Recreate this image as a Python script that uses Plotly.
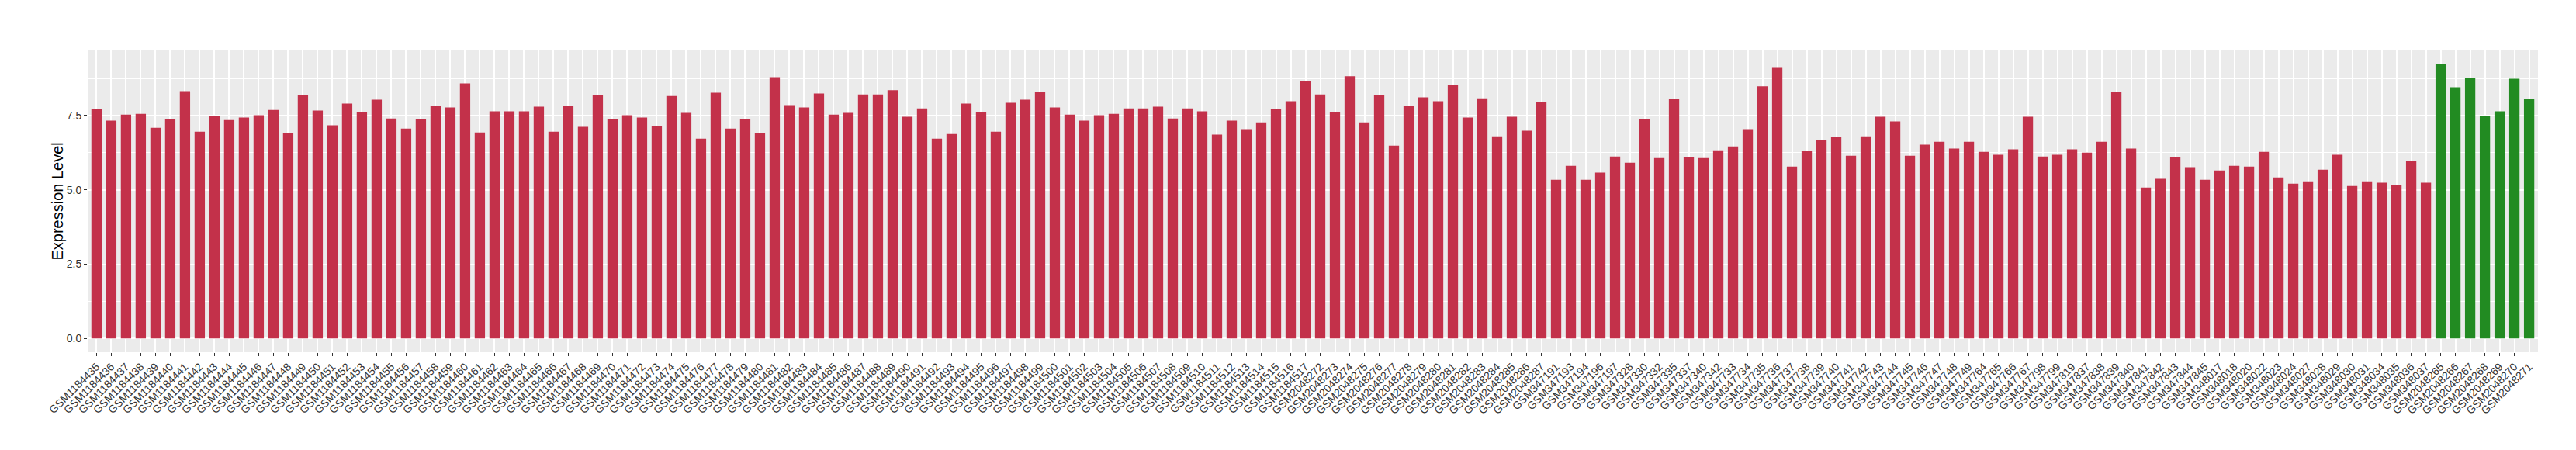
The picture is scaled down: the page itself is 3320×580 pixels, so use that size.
import plotly.graph_objects as go

# sample ids, in plotting order
gsm1184 = [f"GSM{n}" for n in range(1184435, 1184518)]
gsm2048_a = [f"GSM{n}" for n in range(2048272, 2048288)]
gsm347 = ["GSM347" + s for s in [
    "191", "193", "194", "196", "197", "328", "330", "332", "335", "337", "340", "342",
    "733", "734", "735", "736", "737", "738", "739", "740", "741", "742", "743", "744",
    "745", "746", "747", "748", "749", "764", "765", "766", "767", "798", "799", "819",
    "837", "838", "839", "840", "841", "842", "843", "844", "845"]]
gsm348 = ["GSM348" + s for s in [
    "017", "018", "020", "022", "023", "024", "027", "028", "029", "030", "031",
    "034", "035", "036", "037"]]
gsm2048_b = [f"GSM{n}" for n in range(2048265, 2048272)]

red_samples = gsm1184 + gsm2048_a + gsm347 + gsm348
green_samples = gsm2048_b

red_values = [
    7.72, 7.33, 7.53, 7.56, 7.09, 7.38, 8.32, 6.96, 7.48, 7.35, 7.43, 7.51, 7.69, 6.91,
    8.19, 7.67, 7.17, 7.90, 7.61, 8.03, 7.40, 7.06, 7.38, 7.82, 7.77, 8.58, 6.93, 7.64,
    7.64, 7.64, 7.80, 6.96, 7.82, 7.12, 8.19, 7.38, 7.51, 7.43, 7.14, 8.16, 7.59, 6.72,
    8.27, 7.06, 7.38, 6.91, 8.79, 7.85, 7.77, 8.24, 7.53, 7.59, 8.21, 8.21, 8.35, 7.46,
    7.74, 6.72, 6.88, 7.90, 7.61, 6.96, 7.93, 8.03, 8.29, 7.77,
    7.53, 7.33, 7.51, 7.56, 7.74, 7.74, 7.80, 7.40, 7.74, 7.64,
    6.86, 7.33, 7.04, 7.27, 7.72, 7.98, 8.66, 8.21, 7.61, 8.82,
    7.27, 8.19, 6.49, 7.82, 8.11, 7.98, 8.53, 7.43, 8.08, 6.80,
    7.46, 6.99, 7.95, 5.34, 5.81, 5.34, 5.58, 6.12, 5.91, 7.38,
    6.07, 8.06, 6.10, 6.07, 6.33,
    6.46, 7.04, 8.48, 9.10, 5.78, 6.31, 6.67, 6.78, 6.15, 6.80,
    7.46, 7.30, 6.15, 6.52, 6.62, 6.39, 6.62, 6.28, 6.18, 6.36,
    7.46, 6.12, 6.18, 6.36, 6.25, 6.62, 8.29, 6.39, 5.08, 5.37,
    6.10, 5.76, 5.34, 5.65, 5.81, 5.78, 6.28, 5.42, 5.21, 5.29,
    5.68, 6.18, 5.13, 5.29, 5.24, 5.16, 5.97, 5.24,
]
green_values = [9.23, 8.45, 8.76, 7.48, 7.64, 8.74, 8.06]

y_ticks = [0, 2.5, 5.0, 7.5]
y_ticktext = ["0.0", "2.5", "5.0", "7.5"]

all_samples = red_samples + green_samples
font = "Liberation Sans, Arial, sans-serif"

fig = go.Figure()
fig.add_trace(go.Bar(x=red_samples, y=red_values, width=0.7,
                     marker_color="#C3314A", marker_line_width=0))
fig.add_trace(go.Bar(x=green_samples, y=green_values, width=0.7,
                     marker_color="#228B22", marker_line_width=0))

fig.update_layout(
    width=3320, height=580,
    margin=dict(l=105, r=57, t=57, b=134, autoexpand=False),
    paper_bgcolor="white", plot_bgcolor="#EBEBEB",
    barmode="overlay", showlegend=False,
    font=dict(family=font, size=14, color="#333333"),
    annotations=[dict(
        text="Expression Level", textangle=-90, showarrow=False,
        xref="paper", yref="paper", x=0, y=0.5, xanchor="center", yanchor="middle",
        xshift=-40, font=dict(family=font, size=20, color="black"),
    )],
)
fig.update_xaxes(
    type="category", categoryorder="array", categoryarray=all_samples,
    tickmode="array", tickvals=all_samples, ticktext=all_samples,
    range=[-0.6, len(all_samples) - 0.4], tickangle=-45,
    showgrid=True, gridcolor="white", gridwidth=1.6,
    ticks="outside", ticklen=4, tickcolor="#333333", tickwidth=1,
    tickfont=dict(family=font, size=14, color="#333333"),
    zeroline=False, showline=False, automargin=False,
)
fig.update_yaxes(
    range=[-0.46, 9.69], tickmode="array", tickvals=y_ticks, ticktext=y_ticktext,
    showgrid=True, gridcolor="white", gridwidth=1.6,
    minor=dict(dtick=1.25, tick0=0, showgrid=True, gridcolor="white", gridwidth=0.8),
    ticks="outside", ticklen=4, tickcolor="#333333", tickwidth=1,
    tickfont=dict(family=font, size=14, color="#333333"),
    zeroline=False, showline=False, automargin=False,
)

fig.write_html("out.html")
